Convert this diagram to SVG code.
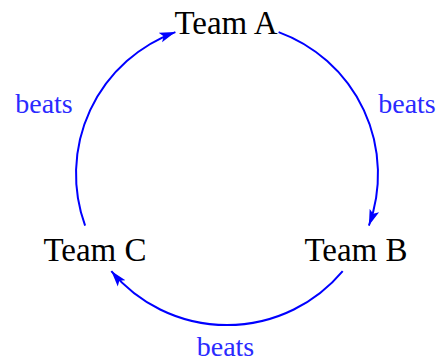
<svg xmlns="http://www.w3.org/2000/svg" width="438" height="362" viewBox="0 0 438 362">
<defs>
<style>
.node{font-family:"Liberation Serif","DejaVu Serif",serif;font-size:33px;fill:#000;text-anchor:middle}
.lbl{font-family:"Liberation Serif","DejaVu Serif",serif;font-size:28px;fill:#2a2aff;text-anchor:middle}
.edge{fill:none;stroke:#0000ff;stroke-width:2}
</style>
<marker id="ah" markerUnits="userSpaceOnUse" markerWidth="18" markerHeight="12" refX="16" refY="5" orient="auto" viewBox="0 0 18 10">
<path d="M0,0 L16,5 L0,10 L3.5,5 Z" fill="#0000ff"/>
</marker>
</defs>
<rect width="438" height="362" fill="#fff"/>
<g id="connectors">
<path class="edge" d="M278.6,32.1 A151,151 0 0 1 368.9,225.6" marker-end="url(#ah)"/>
<path class="edge" d="M342.7,271.1 A151,151 0 0 1 111.3,271.1" marker-end="url(#ah)"/>
<path class="edge" d="M85.1,225.6 A151,151 0 0 1 175.4,32.1" marker-end="url(#ah)"/>
<text class="lbl" x="407" y="113">beats</text>
<text class="lbl" x="225.5" y="356">beats</text>
<text class="lbl" x="44" y="113">beats</text>
</g>
<g id="teamA"><text class="node" x="226" y="34">Team A</text></g>
<g id="teamB"><text class="node" x="356" y="261">Team B</text></g>
<g id="teamC"><text class="node" x="95" y="261">Team C</text></g>
</svg>
